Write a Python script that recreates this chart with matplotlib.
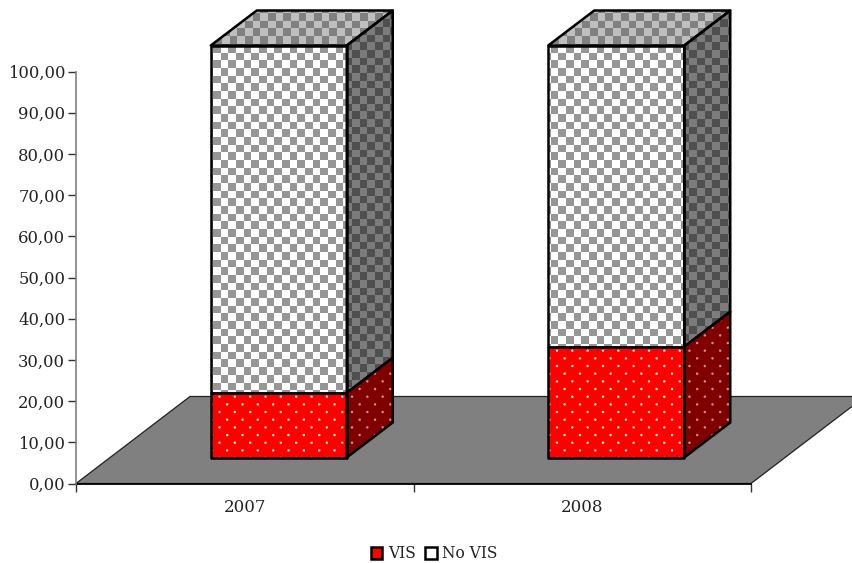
import matplotlib
matplotlib.use("Agg")
import matplotlib.pyplot as plt
from matplotlib.colors import to_rgb
from matplotlib.patches import Patch, Polygon
import numpy as np

plt.rcParams["font.family"] = ["DejaVu Serif"]

years = ["2007", "2008"]
vis = [15.7, 26.9]
no_vis = [84.3, 73.1]
y_ticks = [0, 10, 20, 30, 40, 50, 60, 70, 80, 90, 100]
y_labels = ["0,00", "10,00", "20,00", "30,00", "40,00", "50,00",
            "60,00", "70,00", "80,00", "90,00", "100,00"]

W, H = 853, 563
X0, Y0, X1, Y1 = 76, 483.5, 751, 71.5  # plot box in pixels
bar_width = 0.403
CELL = 7.67

fig = plt.figure(figsize=(W / 100, H / 100), dpi=100)
ax = fig.add_axes([X0 / W, 1 - Y0 / H, (X1 - X0) / W, (Y0 - Y1) / H])
ax.patch.set_visible(False)

# data units per pixel, used for the fake 3d depth
sx = len(years) / (X1 - X0)
sy = 100 / (Y0 - Y1)
full_extent = (-X0 * sx, (W - X0) * sx, (Y0 - H) * sy, Y0 * sy)
px, py = np.meshgrid(np.arange(W) + 0.5, np.arange(H) + 0.5)


def checker(col_a, col_b, ox=220.7, oy=52.7):
    m = (np.floor((px - ox) / CELL) + np.floor((py - oy) / CELL)) % 2 == 0
    img = np.zeros((H, W, 3))
    img[m] = to_rgb(col_a)
    img[~m] = to_rgb(col_b)
    return img


def dotted(col_bg, col_dot, ox=219.5, oy=396.7):
    row = np.round((py - oy) / CELL)
    dist_y = py - oy - row * CELL
    col = (px - ox - row * CELL) / (2 * CELL)
    dist_x = (col - np.round(col)) * 2 * CELL
    a = np.clip(1.7 - np.hypot(dist_x, dist_y), 0, 1)[..., None]
    return a * np.array(to_rgb(col_dot)) + (1 - a) * np.array(to_rgb(col_bg))


tex_front = checker("#969696", "#ffffff")
tex_top = checker("#808080", "#bfbfbf", ox=222, oy=13)
tex_side = checker("#4f4f4f", "#7c7c7c", ox=352, oy=50)
tex_red = dotted("#ff0000", "#ffe0e0")
tex_dark = dotted("#800000", "#c89090", ox=352)


def face(verts, tex):
    poly = Polygon(verts, closed=True, fill=False, edgecolor="black", linewidth=1.8,
                   joinstyle="round", zorder=4, clip_on=False)
    ax.add_patch(poly)
    im = ax.imshow(tex, extent=full_extent, origin="upper", aspect="auto",
                   interpolation="nearest", zorder=3)
    # images get cut to the clip box as well, so open that up past the axes
    im.set_clip_box(fig.bbox)
    im.set_clip_path(poly)


# floor
fx, fy = 114 * sx, 87 * sy
ax.add_patch(Polygon([(0, 0), (len(years), 0), (len(years) + fx, fy), (fx, fy)], closed=True,
                     facecolor="#808080", edgecolor="#202020", linewidth=0.9,
                     zorder=1, clip_on=False))

# bars sit 34 px into the floor and are 46 px deep
ox, oy = 34 * sx, 26 * sy
dx, dy = 46 * sx, 35 * sy
for i in range(len(years)):
    left = i + 0.5 - bar_width / 2 + ox
    right = left + bar_width
    bottom = oy
    mid = oy + vis[i]
    top = mid + no_vis[i]
    face([(right, bottom), (right + dx, bottom + dy), (right + dx, mid + dy), (right, mid)], tex_dark)
    face([(right, mid), (right + dx, mid + dy), (right + dx, top + dy), (right, top)], tex_side)
    face([(left, top), (right, top), (right + dx, top + dy), (left + dx, top + dy)], tex_top)
    face([(left, bottom), (right, bottom), (right, mid), (left, mid)], tex_red)
    face([(left, mid), (right, mid), (right, top), (left, top)], tex_front)

ax.set_xlim(0, len(years))
ax.set_ylim(0, 100)
ax.set_yticks(y_ticks)
ax.set_yticklabels(y_labels, fontsize=11.8, color="#222222")
ax.set_xticks(range(len(years) + 1))
ax.set_xticklabels([])
ax.set_xticks([i + 0.5 for i in range(len(years))], minor=True)
ax.set_xticklabels(years, minor=True, fontsize=12, color="#222222")
ax.tick_params(axis="x", which="minor", length=0, pad=11)
ax.tick_params(axis="x", which="major", length=5.4, width=1, color="#333333")
ax.tick_params(axis="y", length=5.8, width=1, color="#333333", pad=2)

for side in ["top", "right"]:
    ax.spines[side].set_visible(False)
ax.spines["left"].set_color("#808080")
ax.spines["left"].set_linewidth(1.2)
ax.spines["bottom"].set_color("black")
ax.spines["bottom"].set_linewidth(1.3)
ax.spines["bottom"].set_zorder(2)

handles = [Patch(facecolor="#ff0000", edgecolor="black", linewidth=1.8, label="VIS"),
           Patch(facecolor="white", edgecolor="black", linewidth=1.8, label="No VIS")]
fig.legend(handles=handles, loc="center", bbox_to_anchor=(434 / W, 1 - 554 / H), ncol=2,
           frameon=False, fontsize=11.2, handlelength=0.75, handleheight=0.75,
           handletextpad=0.35, columnspacing=0.6, labelcolor="#222222")

fig.savefig("out.png", dpi=100)
